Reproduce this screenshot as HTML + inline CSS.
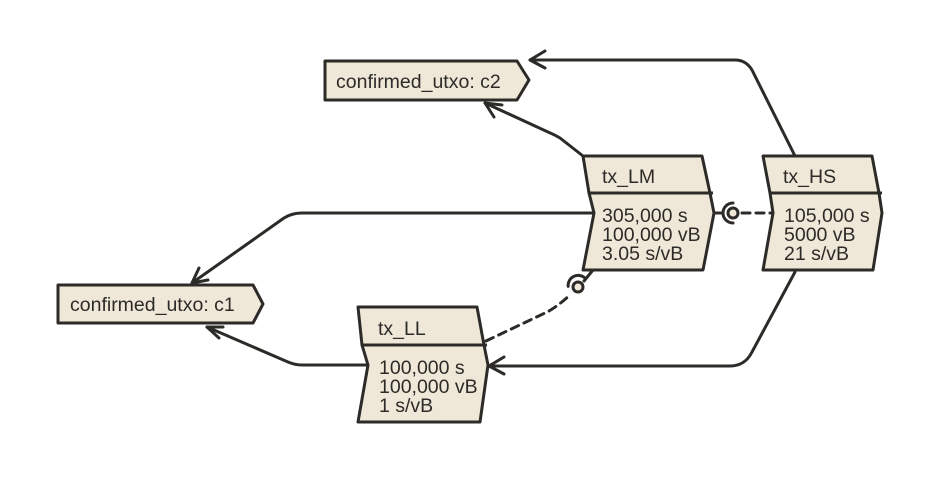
<!DOCTYPE html>
<html><head><style>body{margin:0;background:#fff}svg{display:block}text{font-family:"Liberation Sans",sans-serif;font-size:19.5px;fill:#2d2b28}</style></head>
<body>
<svg width="940" height="480" viewBox="0 0 940 480" xmlns="http://www.w3.org/2000/svg">
<g fill="none" stroke="#2d2b28" stroke-width="3" stroke-linejoin="round" stroke-linecap="round">
<path d="M583 156 L560 138 Q555 135 548 132 L485 103"/>
<path d="M485 103 l17 2 M485 103 l9 14"/>
<path d="M795 156 L752 70 Q746 60 735 60 L530 60"/>
<path d="M530 60 l15 -9 M530 60 l15 8"/>
<path d="M594 213 L302 213 Q292 213 284 218 L192 283"/>
<path d="M192 283 l7 -15 M192 283 l16 -3"/>
<path d="M367 365 L302 365 Q295 365 288 362 L207 327"/>
<path d="M207 327 l16 0 M207 327 l12 11"/>
<path d="M795 272 L752 352 Q745 366 730 366 L489 366"/>
<path d="M489 366 l15 -9 M489 366 l15 8"/>
<path d="M712 213 L723 213"/>
<path d="M733 223 A10 10 0 0 1 733 203"/>
<path d="M742 213 L772 213" stroke-dasharray="8 6"/>
<path d="M593 270 L584 281"/>
<path d="M569 283 A10 10 0 0 1 587 280" transform="rotate(-20 578 287)"/>
<path d="M486 341 L545 313 Q556 308 571 294" stroke-dasharray="8 6"/>
</g>
<g fill="#efe8d8" stroke="#2d2b28" stroke-width="3" stroke-linejoin="round">
<circle cx="733" cy="213" r="5"/>
<circle cx="578" cy="287" r="5"/>
<path d="M325 61 L517 61 L529 80 L517 100 L325 100 Z"/>
<path d="M58 285 L253 285 L263 304 L253 323 L58 323 Z"/>
<path d="M583 156 L702 156 L710 193 L589 193 Z"/>
<path d="M589 193 L710 193 L714 213 L703 270 L583 270 L594 213 Z"/>
<path d="M763 156 L872 156 L879 193 L770 193 Z"/>
<path d="M770 193 L879 193 L882 213 L873 270 L763 270 L773 213 Z"/>
<path d="M358 307 L477 307 L484 345 L362 345 Z"/>
<path d="M362 345 L484 345 L488 365 L480 422 L358 422 L368 365 Z"/>
</g>
<g stroke="#2d2b28" stroke-width="3">
<line x1="589" y1="193" x2="713" y2="193"/>
<line x1="770" y1="193" x2="882" y2="193"/>
<line x1="362" y1="345" x2="487" y2="345"/>
</g>
<text x="336" y="88">confirmed_utxo: c2</text>
<text x="70" y="311">confirmed_utxo: c1</text>
<text x="602" y="183">tx_LM</text>
<text x="602" y="222">305,000 s</text>
<text x="602" y="241">100,000 vB</text>
<text x="602" y="260">3.05 s/vB</text>
<text x="783" y="183">tx_HS</text>
<text x="784" y="222">105,000 s</text>
<text x="784" y="241">5000 vB</text>
<text x="784" y="260">21 s/vB</text>
<text x="378" y="335">tx_LL</text>
<text x="379" y="374">100,000 s</text>
<text x="379" y="393">100,000 vB</text>
<text x="379" y="412">1 s/vB</text>
</svg>
</body></html>
